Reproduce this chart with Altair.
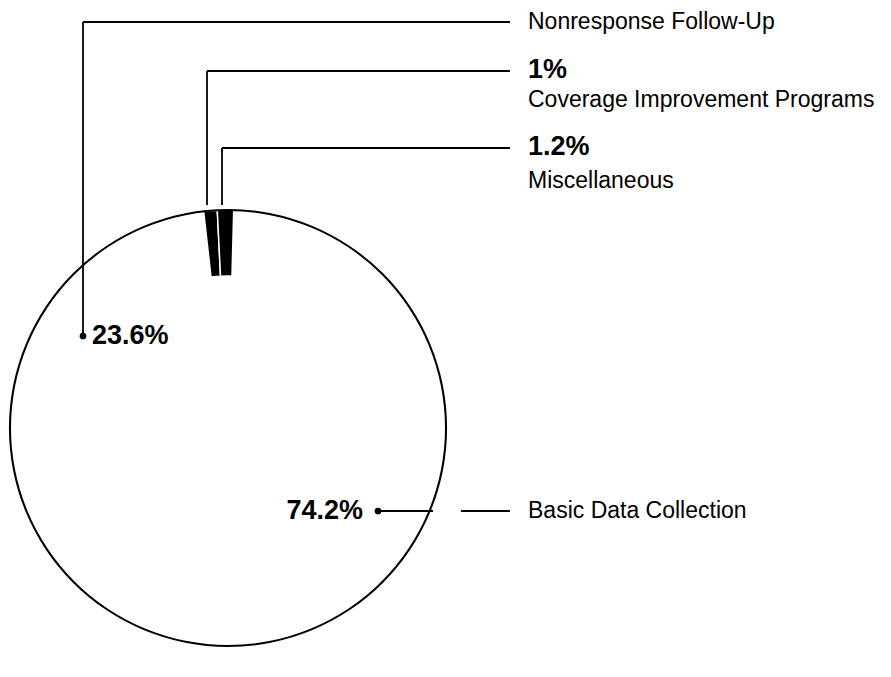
import math
import altair as alt
import pandas as pd

# ---- data ----
categories = ["Basic Data Collection", "Nonresponse Follow-Up",
              "Coverage Improvement Programs", "Miscellaneous"]
shares = [74.2, 23.6, 1.0, 1.2]
order = [0, 1, 2, 3]
fills = ["white", "white", "black", "black"]

# leader-line segments (page pixel coordinates of the annotation layer)
seg_x1 = [83, 83, 207, 207, 222, 222, 378, 461]
seg_y1 = [336, 22, 205, 71, 205, 148, 511, 511]
seg_x2 = [83, 510, 207, 510, 222, 510, 433, 510]
seg_y2 = [22, 22, 71, 71, 148, 148, 511, 511]

dot_x = [83, 378]
dot_y = [336, 511]

name_text = ["Nonresponse Follow-Up", "Coverage Improvement Programs",
             "Miscellaneous", "Basic Data Collection"]
name_x = [528, 528, 528, 528]
name_y = [22, 100, 181, 511]

pct_text = ["1%", "1.2%", "23.6%", "74.2%"]
pct_x = [528, 528, 92, 363]
pct_y = [70, 147, 336, 511]
pct_align = ["left", "left", "left", "right"]

# ---- layout ----
W, H = 875, 661
CX, CY, R = 228, 428, 218
START = math.radians(1.5)

xs = alt.Scale(domain=[8, 8 + W], nice=False, zero=False)
ys = alt.Scale(domain=[8, 8 + H], nice=False, zero=False, reverse=True)

pie_df = pd.DataFrame({"cat": categories, "share": shares, "ord": order, "fill": fills})

slices = alt.Chart(pie_df).mark_arc(
    radius=R, innerRadius=R - 66, stroke="white", strokeWidth=1.5
).encode(
    theta=alt.Theta("share:Q", stack=True,
                    scale=alt.Scale(range=[START, START + 2 * math.pi])),
    order=alt.Order("ord:Q"),
    fill=alt.Fill("fill:N", scale=None),
    x=alt.value(CX - 8),
    y=alt.value(CY - 8),
)

ring = alt.Chart(pd.DataFrame({"r": [1]})).mark_arc(
    radius=R + 1, innerRadius=R - 1, theta=0, theta2=2 * math.pi, color="black"
).encode(x=alt.value(CX - 8), y=alt.value(CY - 8))

seg_df = pd.DataFrame({"x1": seg_x1, "y1": seg_y1, "x2": seg_x2, "y2": seg_y2})
segs = alt.Chart(seg_df).mark_rule(color="black", strokeWidth=1.8).encode(
    x=alt.X("x1:Q", scale=xs, axis=None),
    y=alt.Y("y1:Q", scale=ys, axis=None),
    x2="x2:Q",
    y2="y2:Q",
)

dot_df = pd.DataFrame({"x": dot_x, "y": dot_y})
dots = alt.Chart(dot_df).mark_point(filled=True, color="black", size=45, opacity=1).encode(
    x=alt.X("x:Q", scale=xs, axis=None),
    y=alt.Y("y:Q", scale=ys, axis=None),
)

name_df = pd.DataFrame({"t": name_text, "x": name_x, "y": name_y})
names = alt.Chart(name_df).mark_text(
    align="left", baseline="middle", font="Liberation Sans", fontSize=23, color="black"
).encode(
    x=alt.X("x:Q", scale=xs, axis=None),
    y=alt.Y("y:Q", scale=ys, axis=None),
    text="t:N",
)

pct_df = pd.DataFrame({"t": pct_text, "x": pct_x, "y": pct_y, "a": pct_align})
pct_left = alt.Chart(pct_df).transform_filter(alt.datum.a == "left").mark_text(
    align="left", baseline="middle", font="Liberation Sans", fontSize=27,
    fontWeight="bold", color="black"
).encode(
    x=alt.X("x:Q", scale=xs, axis=None),
    y=alt.Y("y:Q", scale=ys, axis=None),
    text="t:N",
)
pct_right = alt.Chart(pct_df).transform_filter(alt.datum.a == "right").mark_text(
    align="right", baseline="middle", font="Liberation Sans", fontSize=27,
    fontWeight="bold", color="black"
).encode(
    x=alt.X("x:Q", scale=xs, axis=None),
    y=alt.Y("y:Q", scale=ys, axis=None),
    text="t:N",
)

chart = alt.layer(slices, ring, segs, dots, names, pct_left, pct_right).properties(
    width=W, height=H, padding=0, autosize="none", background="white"
).configure_view(stroke=None)

chart.save("out.html", embed_options={"renderer": "svg", "actions": False})
